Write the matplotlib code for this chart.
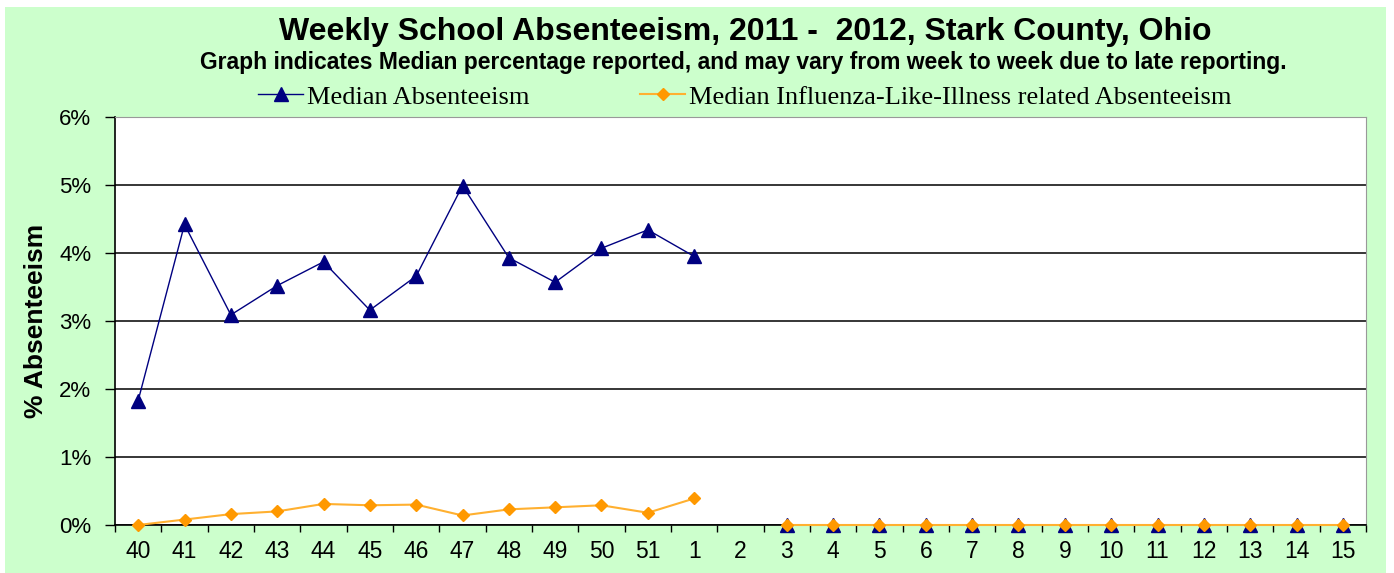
import numpy as np
import matplotlib
matplotlib.use("Agg")
import matplotlib.pyplot as plt
from matplotlib.patches import Rectangle

weeks = ['40', '41', '42', '43', '44', '45', '46', '47', '48', '49', '50', '51',
         '1', '2', '3', '4', '5', '6', '7', '8', '9', '10', '11', '12', '13', '14', '15']
median_abs = [1.83, 4.42, 3.09, 3.52, 3.87, 3.16, 3.66, 4.99, 3.93, 3.57, 4.07, 4.34,
              3.95, None, 0, 0, 0, 0, 0, 0, 0, 0, 0, 0, 0, 0, 0]
median_ili = [0.0, 0.08, 0.16, 0.20, 0.31, 0.29, 0.30, 0.14, 0.23, 0.26, 0.29, 0.18,
              0.39, None, 0, 0, 0, 0, 0, 0, 0, 0, 0, 0, 0, 0, 0]
y_ticks = [0, 1, 2, 3, 4, 5, 6]
y_tick_labels = ['0%', '1%', '2%', '3%', '4%', '5%', '6%']

title = "Weekly School Absenteeism, 2011 -  2012, Stark County, Ohio"
subtitle = "Graph indicates Median percentage reported, and may vary from week to week due to late reporting."
label_abs = "Median Absenteeism"
label_ili = "Median Influenza-Like-Illness related Absenteeism"

W, H = 1394, 573
fig = plt.figure(figsize=(W / 100, H / 100), dpi=100, facecolor='white')
fig.patches.append(Rectangle((5 / W, 0), (1386 - 5) / W, (H - 7) / H,
                             transform=fig.transFigure, facecolor='#CCFFCC',
                             edgecolor='none', zorder=-10))

ax = fig.add_axes([115 / W, 1 - 525 / H, (1366 - 115) / W, (525 - 117) / H])
ax.set_facecolor('white')

x = np.arange(len(weeks))
abs_arr = np.array([np.nan if v is None else v for v in median_abs], dtype=float)
ili_arr = np.array([np.nan if v is None else v for v in median_ili], dtype=float)

la, = ax.plot(x, abs_arr, color='#000080', lw=1.0, marker='^', markersize=10,
              markerfacecolor='#000080', markeredgecolor='#000080', zorder=3,
              clip_on=False, label=label_abs)
li, = ax.plot(x, ili_arr, color='#FFB030', lw=1.5, marker='D', markersize=6,
              markerfacecolor='#FF9900', markeredgecolor='#FF9900', zorder=4,
              clip_on=False, label=label_ili)

ax.set_xlim(-0.5, len(weeks) - 0.5)
ax.set_ylim(0, 6)
ax.set_yticks(y_ticks)
ax.set_yticklabels(y_tick_labels)
ax.yaxis.grid(True, color='black', lw=1.1)
ax.set_axisbelow(True)

ax.set_xticks(x)
ax.set_xticklabels(weeks)
ax.set_xticks(np.arange(-0.5, len(weeks), 1.0), minor=True)
ax.tick_params(axis='x', which='major', length=0, pad=11, labelsize=16.5)
ax.tick_params(axis='x', which='minor', length=5, width=1, direction='out', color='black')
ax.tick_params(axis='y', length=7, width=1, direction='out', pad=10, labelsize=16)
for lab in ax.get_xticklabels() + ax.get_yticklabels():
    lab.set_fontfamily('Liberation Sans')

for s in ['left', 'bottom']:
    ax.spines[s].set_color('black')
    ax.spines[s].set_linewidth(1.2)
for s in ['top', 'right']:
    ax.spines[s].set_color('#999999')
    ax.spines[s].set_linewidth(0.8)

ax.set_ylabel("% Absenteeism", fontsize=19, fontweight='bold',
              fontfamily='Liberation Sans', labelpad=8)

fig.text(745 / W, 1 - 32 / H, title, ha='center', va='center', fontsize=23,
         fontweight='bold', fontfamily='Liberation Sans')
fig.text(743 / W, 1 - 62 / H, subtitle, ha='center', va='center', fontsize=16.5,
         fontweight='bold', fontfamily='Liberation Sans')

leg = fig.legend(handles=[la, li], loc='center', bbox_to_anchor=(745 / W, 1 - 97 / H),
                 ncol=2, frameon=False, columnspacing=4.2, handlelength=1.7,
                 handletextpad=0.15, borderpad=0,
                 prop={'family': 'Liberation Serif', 'size': 19})

fig.savefig('out.png', dpi=100, facecolor=fig.get_facecolor())
